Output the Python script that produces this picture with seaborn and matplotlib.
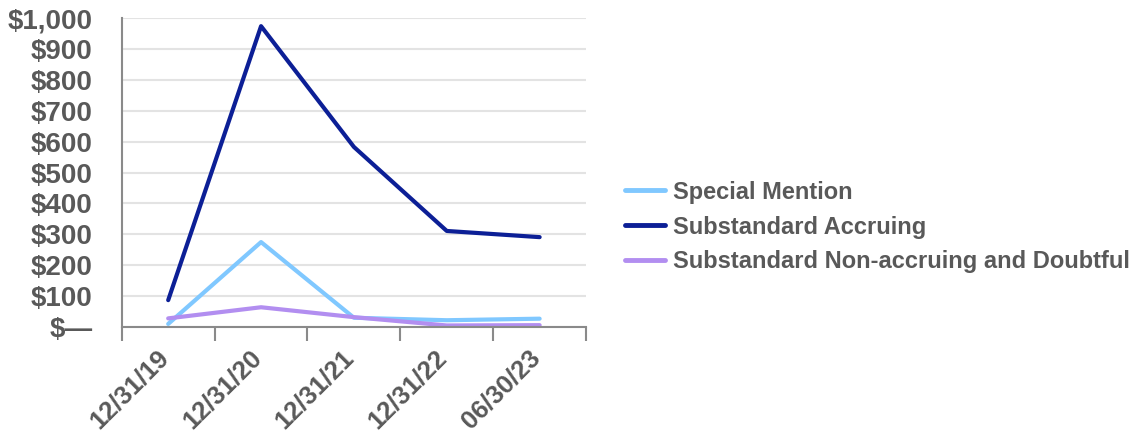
import matplotlib
matplotlib.use("Agg")
import matplotlib.pyplot as plt
from matplotlib.ticker import FixedLocator, FuncFormatter
from matplotlib.transforms import ScaledTranslation
import pandas as pd
import seaborn as sns

periods = ["12/31/19", "12/31/20", "12/31/21", "12/31/22", "06/30/23"]
special_mention = [10, 275, 30, 22, 27]
substandard_accruing = [87, 974, 583, 311, 291]
substandard_nonaccruing = [28, 64, 32, 5, 6]
series_names = ["Special Mention", "Substandard Accruing",
                "Substandard Non-accruing and Doubtful"]
colors = ["#80c8ff", "#0c1f96", "#b28ef0"]

rows = []
for name, vals in zip(series_names,
                      [special_mention, substandard_accruing, substandard_nonaccruing]):
    for i, (p, v) in enumerate(zip(periods, vals)):
        rows.append({"idx": i, "period": p, "value": v, "series": name})
df = pd.DataFrame(rows)

sns.set_theme(style="white")
plt.rcParams["font.family"] = ["Liberation Sans", "DejaVu Sans"]
text_color = "#595959"

fig = plt.figure(figsize=(11.38, 4.32), dpi=100)
ax = fig.add_axes([0.107, 0.243, 0.408, 0.715])

sns.lineplot(data=df, x="idx", y="value", hue="series", hue_order=series_names,
             palette=colors, linewidth=3, ax=ax, sort=False)

ax.set_xlim(-0.5, 4.5)
ax.set_ylim(0, 1000)
ax.set_xlabel("")
ax.set_ylabel("")

ax.set_yticks(range(0, 1001, 100))
ax.yaxis.set_major_formatter(FuncFormatter(
    lambda v, _: "$\u2014" if v == 0 else f"${v:,.0f}"))
ax.grid(axis="y", color="#e3e3e3", linewidth=1.5)
ax.set_axisbelow(True)

ax.set_xticks(range(len(periods)))
ax.set_xticklabels(periods, rotation=45, ha="right", rotation_mode="anchor")
ax.xaxis.set_minor_locator(FixedLocator([i - 0.5 for i in range(len(periods) + 1)]))
ax.tick_params(axis="x", which="major", length=0, pad=13,
               labelsize=18.5, labelcolor=text_color)
ax.tick_params(axis="x", which="minor", length=10, width=1.5,
               color="#8a8a8a", direction="out", bottom=True)
ax.tick_params(axis="y", length=0, pad=21, labelsize=20, labelcolor=text_color)
shift = ScaledTranslation(-12 / 100, 0, fig.dpi_scale_trans)
for lbl in ax.get_xticklabels():
    lbl.set_fontweight("bold")
    lbl.set_transform(lbl.get_transform() + shift)
for lbl in ax.get_yticklabels():
    lbl.set_fontweight("bold")

for side in ["top", "right"]:
    ax.spines[side].set_visible(False)
for side in ["left", "bottom"]:
    ax.spines[side].set_color("#8a8a8a")
    ax.spines[side].set_linewidth(1.5)

leg = ax.legend(loc="center left", bbox_to_anchor=(0.549, 0.4745),
                bbox_transform=fig.transFigure, frameon=False,
                prop={"weight": "bold", "size": 17},
                borderaxespad=0, borderpad=0,
                handlelength=1.7, handletextpad=0.35, labelspacing=0.5)
for t in leg.get_texts():
    t.set_color(text_color)
for h in leg.get_lines():
    h.set_linewidth(3.5)

fig.savefig("out.png", dpi=100)
